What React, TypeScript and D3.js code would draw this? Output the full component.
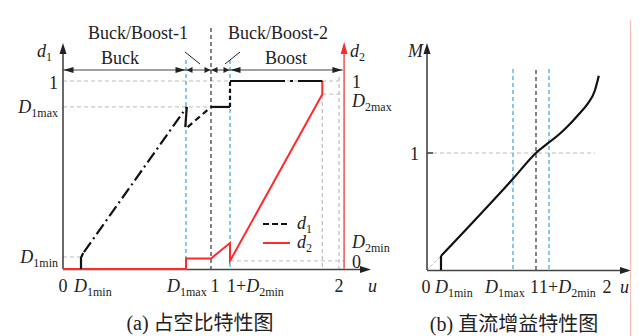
import React from 'react';
import * as d3 from 'd3';

// u axis break points shared by both panels (schematic, not to scale)
const uTicks = [0, 0.13, 0.85, 1, 1.15, 2];
const uNames = ['0', 'D1min', 'D1max', '1', '1+D2min', '2'];

// panel (a): duty cycle
const d1BuckU = [0.13, 0.13, 0.145];
const d1BuckV = [0, 0.06, 0.085];
const d1RampU = [0.15, 0.855];
const d1RampV = [0.09, 0.862];
const d1DropU = [0.855, 0.845];
const d1DropV = [0.862, 0.755];
const d1RiseU = [0.86, 1];
const d1RiseV = [0.755, 0.862];
const d1FlatU = [1, 1.15];
const d1FlatV = [0.862, 0.862];
const d1JumpU = [1.15, 1.15];
const d1JumpV = [0.862, 1];
const d1TopU = [1.15, 1.87];
const d1TopV = [1, 1];

const d2U = [0, 0.85, 0.85, 1, 1.15, 1.15, 1.87, 1.87];
const d2V = [0, 0, 0.056, 0.056, 0.138, 0.043, 0.93, 1];

const d1Levels = [1, 0.862, 0.064];
const d1LevelNames = ['1', 'D1max', 'D1min'];
const d2Levels = [1, 0.93, 0.138, 0.043];
const d2LevelNames = ['1', 'D2max', 'D2min', '0'];

// panel (b): DC gain
const mStartU = [0.13, 0.13];
const mStartV = [0, 0.12];
const mU = [0.13, 0.85, 1, 1.15, 1.3, 1.46, 1.6, 1.71, 1.82, 1.88];
const mV = [0.12, 0.78, 1, 1.09, 1.16, 1.25, 1.34, 1.415, 1.53, 1.66];

const regions = ['Buck', 'Boost'];
const modeNames = ['Buck/Boost-1', 'Buck/Boost-2'];

const SERIF = '"Liberation Serif", "DejaVu Serif", serif';
const CJK = '"Liberation Serif", "Noto Sans CJK SC", sans-serif';
const AXIS = '#444';
const GRID = '#bdbdbd';
const BLUE = '#3aa3dc';
const RED = '#ff2a2a';

const xa = d3.scaleLinear().domain(uTicks).range([63, 81, 186, 211, 230, 339]);
const ya = d3.scaleLinear().domain([0, 1]).range([269, 81]);
const xb = d3.scaleLinear().domain(uTicks).range([427, 441, 513, 536, 549, 607]);
const yb = d3.scaleLinear().domain([0, 1]).range([270, 153]);

const zipPts = (u: number[], v: number[]) => u.map((d, i) => [d, v[i]] as [number, number]);

const lineA = d3.line<[number, number]>().x(d => xa(d[0])).y(d => ya(d[1]));
const lineB = d3.line<[number, number]>().x(d => xb(d[0])).y(d => yb(d[1]));
const curveB = d3.line<[number, number]>().x(d => xb(d[0])).y(d => yb(d[1])).curve(d3.curveMonotoneX);

// filled arrow head with tip at (x, y)
const head = (x: number, y: number, dir: 'up' | 'right' | 'left', len = 10, hw = 3.5) => {
  if (dir === 'up') return `M${x},${y}L${x - hw},${y + len}L${x + hw},${y + len}Z`;
  if (dir === 'right') return `M${x},${y}L${x - len},${y - hw}L${x - len},${y + hw}Z`;
  return `M${x},${y}L${x + len},${y - hw}L${x + len},${y + hw}Z`;
};

const Sub = ({ main, sub, italic = true }: { main: string; sub: string; italic?: boolean }) => (
  <>
    <tspan fontStyle={italic ? 'italic' : 'normal'}>{main}</tspan>
    <tspan fontSize={12} dy={4}>{sub}</tspan>
    <tspan dy={-4}>{''}</tspan>
  </>
);

const tickText = (name: string) => {
  if (name === 'D1min') return <Sub main="D" sub="1min" />;
  if (name === 'D1max') return <Sub main="D" sub="1max" />;
  if (name === 'D2min') return <Sub main="D" sub="2min" />;
  if (name === 'D2max') return <Sub main="D" sub="2max" />;
  if (name === '1+D2min') return <><tspan>1+</tspan><Sub main="D" sub="2min" /></>;
  return <tspan>{name}</tspan>;
};

const vdash = (x: number, y0: number, y1: number, color: string, dash = '4 3') => (
  <line x1={x} x2={x} y1={y0} y2={y1} stroke={color} strokeWidth={1.2} strokeDasharray={dash} />
);
const hdash = (y: number, x0: number, x1: number) => (
  <line x1={x0} x2={x1} y1={y} y2={y} stroke={GRID} strokeWidth={1} strokeDasharray="4 3" />
);

const PanelA = () => {
  const x0 = xa(0);
  const y0 = ya(0);
  const xD2axis = xa(2.04);
  const edges = [0, uTicks[2], 1, uTicks[4], 2.03].map(xa);
  // u tick label placement: [x, anchor]
  const tickX = [xa(0), xa(uTicks[1]) - 7, xa(uTicks[2]) - 19, xa(1) + 4, xa(uTicks[4]) - 3, xa(2)];
  const tickAnchor = ['middle', 'start', 'start', 'middle', 'start', 'middle'];
  return (
    <g fontFamily={SERIF} fontSize={18} fill="#222">
      {/* reference grid */}
      {hdash(ya(1), x0, xa(2))}
      {hdash(ya(d1Levels[1]), x0, xa(1))}
      {hdash(ya(d1Levels[2]), x0, xa(uTicks[1]))}
      {hdash(ya(d2Levels[1]), xa(1.87), xD2axis)}
      {hdash(ya(d2Levels[3]), xa(uTicks[4]), xD2axis)}
      {vdash(xa(1.87), ya(1), y0, GRID)}
      {vdash(xa(2), ya(1) - 4, y0, GRID)}
      {vdash(xa(uTicks[2]), 60, y0, BLUE)}
      {vdash(xa(uTicks[4]), 60, y0, BLUE)}
      {vdash(xa(1), 28, y0, '#333')}

      {/* mode annotation arrows */}
      <line x1={edges[0]} x2={edges[4]} y1={70} y2={70} stroke={AXIS} strokeWidth={1.2} />
      {edges.slice(0, 4).map((e, i) => {
        const big = i === 0 || i === 3;
        const len = big ? 10 : 6;
        return (
          <g key={i} fill="#222">
            <path d={head(e + 0.5, 70, 'left', len, 3)} />
            <path d={head(edges[i + 1] - 0.5, 70, 'right', len, 3)} />
          </g>
        );
      })}
      <text x={120} y={64} textAnchor="middle">{regions[0]}</text>
      <text x={286} y={64} textAnchor="middle">{regions[1]}</text>
      <text x={138} y={39} textAnchor="middle">{modeNames[0]}</text>
      <text x={278} y={39} textAnchor="middle">{modeNames[1]}</text>
      <line x1={185} y1={52} x2={200} y2={64} stroke="#222" strokeWidth={1} />
      <line x1={240} y1={52} x2={225} y2={64} stroke="#222" strokeWidth={1} />

      {/* axes */}
      <line x1={x0} x2={x0} y1={y0} y2={48} stroke={AXIS} strokeWidth={1.6} />
      <path d={head(x0, 43, 'up', 11, 3.5)} fill="#222" />
      <line x1={x0} x2={366} y1={y0 + 0.5} y2={y0 + 0.5} stroke={AXIS} strokeWidth={1.6} />
      <path d={head(371, y0 + 0.5, 'right', 11, 3.5)} fill="#222" />
      <line x1={xD2axis} x2={xD2axis} y1={y0} y2={48} stroke="#f26d6d" strokeWidth={1.8} />
      <path d={head(xD2axis, 42, 'up', 12, 3.5)} fill={RED} />

      {/* curves */}
      <path d={lineA(zipPts(d2U, d2V)) ?? ''} fill="none" stroke={RED} strokeWidth={2} strokeLinejoin="miter" />
      <g fill="none" stroke="#111" strokeWidth={2.2}>
        <path d={lineA(zipPts(d1BuckU, d1BuckV)) ?? ''} />
        <path d={lineA(zipPts(d1RampU, d1RampV)) ?? ''} strokeDasharray="12 4 2 4" />
        <path d={lineA(zipPts(d1DropU, d1DropV)) ?? ''} />
        <path d={lineA(zipPts(d1RiseU, d1RiseV)) ?? ''} strokeDasharray="6 4" />
        <path d={lineA(zipPts(d1FlatU, d1FlatV)) ?? ''} />
        <path d={lineA(zipPts(d1JumpU, d1JumpV)) ?? ''} strokeDasharray="4 3" />
        <path d={lineA(zipPts(d1TopU, d1TopV)) ?? ''} strokeDasharray="55 5 3 5 60" />
      </g>

      {/* legend */}
      <line x1={263} x2={290} y1={224} y2={224} stroke="#111" strokeWidth={2} strokeDasharray="6 3" />
      <line x1={263} x2={290} y1={243} y2={243} stroke={RED} strokeWidth={2} />
      <text x={297} y={229}><Sub main="d" sub="1" /></text>
      <text x={297} y={248}><Sub main="d" sub="2" /></text>

      {/* axis titles */}
      <text x={37} y={57}><Sub main="d" sub="1" /></text>
      <text x={350} y={57}><Sub main="d" sub="2" /></text>
      <text x={368} y={292} fontStyle="italic">u</text>

      {/* left ticks */}
      {d1Levels.map((v, i) => (
        <text key={i} x={58} y={ya(v) + (i === 0 ? 8 : 6)} textAnchor="end">{tickText(d1LevelNames[i])}</text>
      ))}
      {/* right ticks */}
      {d2Levels.map((v, i) => (
        <text key={i} x={352} y={ya(v) + [7, 13, 5, 7][i]}>{tickText(d2LevelNames[i])}</text>
      ))}
      {/* u ticks */}
      {uNames.map((n, i) => (
        <text key={i} x={tickX[i]} y={292} textAnchor={tickAnchor[i] as any}>{tickText(n)}</text>
      ))}
      <text x={200} y={330} textAnchor="middle" fontFamily={CJK} fontSize={20}>(a) 占空比特性图</text>
    </g>
  );
};

const PanelB = () => {
  const x0 = xb(0);
  const y0 = yb(0);
  return (
    <g fontFamily={SERIF} fontSize={18} fill="#222">
      {hdash(yb(1), x0 + 6, 595)}
      <line x1={x0} y1={y0} x2={xb(mStartU[0])} y2={yb(mStartV[1])} stroke={GRID} strokeWidth={1} strokeDasharray="3 2" />
      {vdash(xb(uTicks[2]), 69, y0, BLUE)}
      {vdash(xb(uTicks[4]), 69, y0, BLUE)}
      {vdash(xb(1), 70, y0, '#333')}

      <line x1={x0} x2={x0} y1={y0} y2={48} stroke={AXIS} strokeWidth={1.6} />
      <path d={head(x0, 43, 'up', 11, 3.5)} fill="#222" />
      <line x1={x0} x2={626} y1={y0 + 0.5} y2={y0 + 0.5} stroke={AXIS} strokeWidth={1.6} />
      <path d={head(631, y0 + 0.5, 'right', 11, 3.5)} fill="#222" />
      <line x1={x0} x2={x0 + 6} y1={yb(1)} y2={yb(1)} stroke={AXIS} strokeWidth={1.6} />

      <path d={lineB(zipPts(mStartU, mStartV)) ?? ''} fill="none" stroke="#111" strokeWidth={2.2} />
      <path d={curveB(zipPts(mU, mV)) ?? ''} fill="none" stroke="#111" strokeWidth={2.2} />

      <text x={408} y={57} fontStyle="italic">M</text>
      <text x={419} y={yb(1) + 7} textAnchor="end">1</text>
      <text x={426} y={293} textAnchor="middle">0</text>
      <text x={435} y={293}>{tickText('D1min')}</text>
      <text x={485} y={293}>{tickText('D1max')}</text>
      <text x={530} y={293}>1</text>
      <text x={539} y={293}>{tickText('1+D2min')}</text>
      <text x={xb(2)} y={293} textAnchor="middle">2</text>
      <text x={620} y={293} fontStyle="italic">u</text>
      <text x={514} y={331} textAnchor="middle" fontFamily={CJK} fontSize={20}>(b) 直流增益特性图</text>
    </g>
  );
};

export default function App() {
  return (
    <svg width={644} height={336} style={{ position: 'absolute', left: 0, top: 0, background: '#fff' }}>
      <rect width={644} height={336} fill="#fff" />
      <PanelA />
      <PanelB />
      <rect x={630} y={20} width={14} height={316} fill="#fff" />
      <line x1={630.5} x2={630.5} y1={20} y2={336} stroke="#f7c2b4" strokeWidth={1.2} />
    </svg>
  );
}
